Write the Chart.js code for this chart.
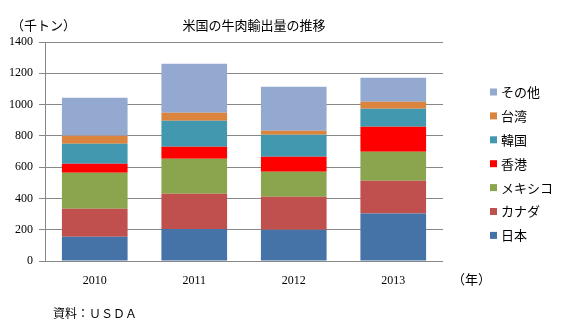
<!DOCTYPE html>
<html>
<head>
<meta charset="utf-8">
<script src="https://cdn.jsdelivr.net/npm/chart.js@4"></script>
<style>
  html, body { margin: 0; padding: 0; background: #fff; }
  canvas { display: block; }
</style>
</head>
<body>
<canvas id="beefChart" width="567" height="329"></canvas>
<script>
// 米国の牛肉輸出量（千トン）
const years = ["2010", "2011", "2012", "2013"];
const seriesNames = ["日本", "カナダ", "メキシコ", "香港", "韓国", "台湾", "その他"];
const japan = [155, 204, 200, 304];
const canada = [179, 226, 211, 209];
const mexico = [230, 224, 160, 185];
const hongKong = [58, 76, 95, 160];
const korea = [128, 167, 141, 115];
const taiwan = [51, 51, 26, 45];
const others = [243, 313, 281, 153];
const yTicks = [0, 200, 400, 600, 800, 1000, 1200, 1400];

const colors = ["#4572A7", "#C0504D", "#8BA54E", "#FF0000", "#4198AF", "#DB843D", "#93A9CF"];
const JP_FONT = '"Noto Sans CJK JP", sans-serif';
const NUM_FONT = '"Liberation Serif", serif';

const seriesValues = [japan, canada, mexico, hongKong, korea, taiwan, others];

// タイトル・単位・凡例・出典は手描き
const extras = {
  id: "extras",
  afterDraw(chart) {
    const ctx = chart.ctx;
    ctx.save();
    ctx.fillStyle = "#000";
    ctx.textBaseline = "middle";
    ctx.font = `13px ${JP_FONT}`;
    ctx.textAlign = "left";
    ctx.fillText("（千トン）", 11, 25);
    ctx.textAlign = "center";
    ctx.fillText("米国の牛肉輸出量の推移", 254, 25);
    ctx.textAlign = "left";
    ctx.fillText("（年）", 452, 279);
    ctx.font = `12px ${JP_FONT}`;
    ctx.fillText("資料：ＵＳＤＡ", 53, 313);

    // 凡例（上から逆順）
    ctx.font = `13px ${JP_FONT}`;
    const items = chart.data.datasets.slice().reverse();
    items.forEach((ds, i) => {
      const y = 92 + i * 23.9;
      ctx.fillStyle = ds.backgroundColor;
      ctx.fillRect(490, y - 3.5, 7, 7);
      ctx.fillStyle = "#000";
      ctx.fillText(ds.label, 501, y);
    });
    ctx.restore();
  }
};

new Chart(document.getElementById("beefChart"), {
  type: "bar",
  data: {
    labels: years,
    datasets: seriesNames.map((name, i) => ({
      label: name,
      data: seriesValues[i],
      backgroundColor: colors[i],
      borderWidth: 0,
      barPercentage: 0.66,
      categoryPercentage: 1
    }))
  },
  options: {
    responsive: false,
    animation: false,
    layout: { padding: { top: 42, right: 124, left: 0, bottom: 0 } },
    plugins: { legend: { display: false }, tooltip: { enabled: false } },
    scales: {
      x: {
        stacked: true,
        grid: { display: false },
        border: { display: false },
        ticks: { color: "#000", font: { family: NUM_FONT, size: 12 }, padding: 5 },
        afterFit: (s) => { s.height = 68; }
      },
      y: {
        stacked: true,
        min: 0,
        max: 1400,
        afterBuildTicks: (s) => { s.ticks = yTicks.map((v) => ({ value: v })); },
        grid: { color: "#888", lineWidth: 1, tickLength: 6 },
        border: { color: "#888", width: 1 },
        ticks: { color: "#000", font: { family: NUM_FONT, size: 12 }, padding: 6, callback: (v) => String(v) },
        afterFit: (s) => { s.width = 45; }
      }
    }
  },
  plugins: [extras]
});
</script>
</body>
</html>
